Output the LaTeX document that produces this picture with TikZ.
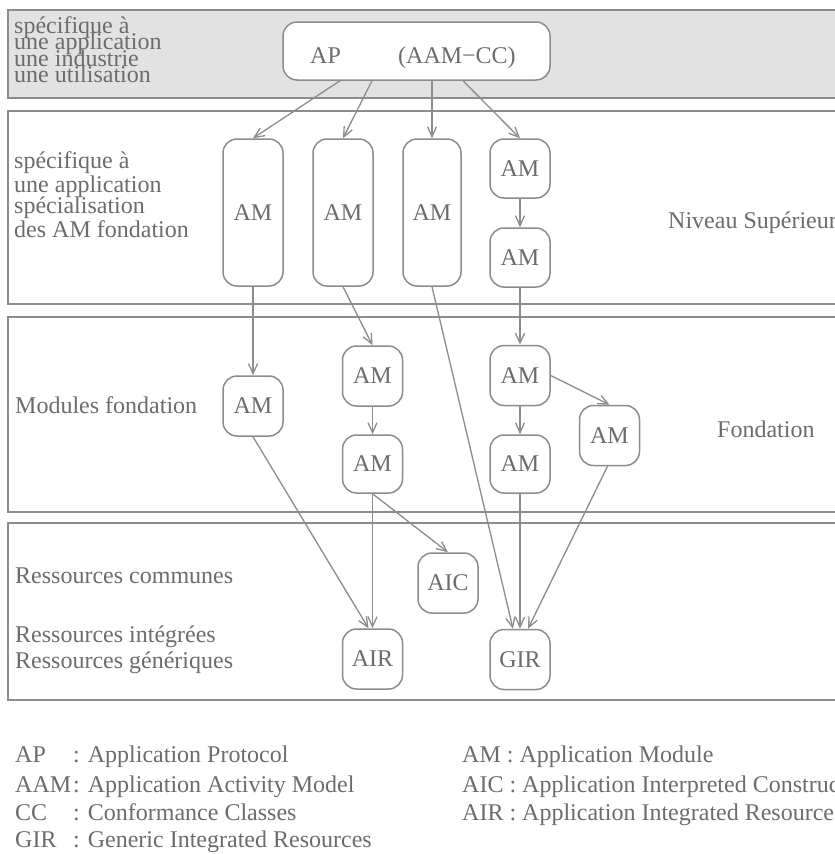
\documentclass[tikz,border=0pt]{standalone}
\usepackage{fontspec}
\setmainfont{Liberation Serif}
\usetikzlibrary{arrows.meta}
\definecolor{inkgray}{HTML}{6C6C6C}
\definecolor{rulegray}{HTML}{8C8C8C}
\definecolor{bandfill}{HTML}{E2E2E2}
\begin{document}
\begin{tikzpicture}[x=1pt,y=-1pt,
  band/.style={draw=rulegray,line width=1.8pt},
  module/.style={draw=rulegray,line width=1.5pt,rounded corners=14pt,fill=white,
    text=inkgray,font=\fontsize{24}{28}\selectfont,
    minimum width=60pt,minimum height=60pt,inner sep=0pt},
  tallmod/.style={module,minimum height=147pt},
  lbl/.style={text=inkgray,font=\fontsize{24}{24}\selectfont,anchor=base west,inner sep=0pt},
  link/.style={draw=rulegray,line width=1.3pt,
    -{Straight Barb[length=10pt,width=9pt,line width=1.3pt]}}
]
\useasboundingbox (0,0) rectangle (835,854);
\clip (0,0) rectangle (835,854);
\fill[white] (0,0) rectangle (835,854);

% horizontal layers
\draw[band,fill=bandfill] (8,10) rectangle (850,98);
\draw[band] (8,111) rectangle (850,304);
\draw[band] (8,317) rectangle (850,512);
\draw[band] (8,523) rectangle (850,700);

% layer captions (left)
\node[lbl] (c1a) at (14,33)   {spécifique à};
\node[lbl] (c1b) at (14,49.5) {une application};
\node[lbl] (c1c) at (14,66)   {une industrie};
\node[lbl] (c1d) at (14,82.5) {une utilisation};

\node[lbl] (c2a) at (14,168) {spécifique à};
\node[lbl] (c2b) at (14,192) {une application};
\node[lbl] (c2c) at (14,213) {spécialisation};
\node[lbl] (c2d) at (14,237) {des AM fondation};

\node[lbl] (c3a) at (15,413) {Modules fondation};

\node[lbl] (c4a) at (15,583) {Ressources communes};
\node[lbl] (c4b) at (15,642) {Ressources intégrées};
\node[lbl] (c4c) at (15,668) {Ressources génériques};

% layer captions (right)
\node[lbl] (r2) at (668,228) {Niveau Supérieur};
\node[lbl] (r3) at (717,437) {Fondation};

% application protocol
\node[module,minimum width=267pt,minimum height=58pt] (ap) at (416.5,51) {};
\node[lbl] (aptxt) at (310,63) {AP};
\node[lbl] (aamtxt) at (398,63) {(AAM−CC)};

% upper level modules
\node[tallmod] (s1) at (253,212.5) {AM};
\node[tallmod] (s2) at (343,212.5) {AM};
\node[tallmod,minimum width=58pt] (s3) at (432,212.5) {AM};
\node[module,minimum height=59pt] (s4a) at (520,168.5) {AM};
\node[module,minimum height=59pt] (s4b) at (520,257.5) {AM};

% foundation modules
\node[module] (f1) at (253,406) {AM};
\node[module] (f2) at (372.5,376) {AM};
\node[module,minimum height=58pt] (f3) at (372.5,464) {AM};
\node[module] (f4) at (520,375.5) {AM};
\node[module,minimum height=58pt] (f5) at (520,464) {AM};
\node[module] (f6) at (609.5,435.5) {AM};

% resources
\node[module] (aic) at (448,583) {AIC};
\node[module] (air) at (372.5,659) {AIR};
\node[module] (gir) at (520,659.5) {GIR};

% dependencies
\draw[link] ([xshift=-76.5pt]ap.south) -- (s1.north);
\draw[link] ([xshift=-44.5pt]ap.south) -- (s2.north);
\draw[link] ([xshift=15.5pt]ap.south) -- (s3.north);
\draw[link] ([xshift=46.5pt]ap.south) -- (s4a.north);

\draw[link] (s4a) -- (s4b);
\draw[link] (s1) -- (f1);
\draw[link] (s2.south) -- (f2.north);
\draw[link] (s4b) -- (f4);
\draw[link] (s3.south) -- ([xshift=-7pt]gir.north);

\draw[link] (f2) -- (f3);
\draw[link] (f4) -- (f5);
\draw[link] (f4.east) -- (f6.north);

\draw[link] (f1.south) -- ([xshift=-4pt]air.north);
\draw[link] (f3) -- (air);
\draw[link] (f3.south) -- (aic.north);
\draw[link] (f5) -- (gir);
\draw[link] ([xshift=-2pt]f6.south) -- ([xshift=8pt]gir.north);

% legend
\node[lbl] (l1) at (15,762) {\makebox[58pt][l]{AP}: Application Protocol};
\node[lbl] (l2) at (15,792) {\makebox[58pt][l]{AAM}: Application Activity Model};
\node[lbl] (l3) at (15,820) {\makebox[58pt][l]{CC}: Conformance Classes};
\node[lbl] (l4) at (15,847) {\makebox[58pt][l]{GIR}: Generic Integrated Resources};
\node[lbl] (l5) at (462,762) {AM : Application Module};
\node[lbl] (l6) at (462,792) {AIC : Application Interpreted Constructs};
\node[lbl] (l7) at (462,820) {AIR : Application Integrated Resources};
\end{tikzpicture}
\end{document}
